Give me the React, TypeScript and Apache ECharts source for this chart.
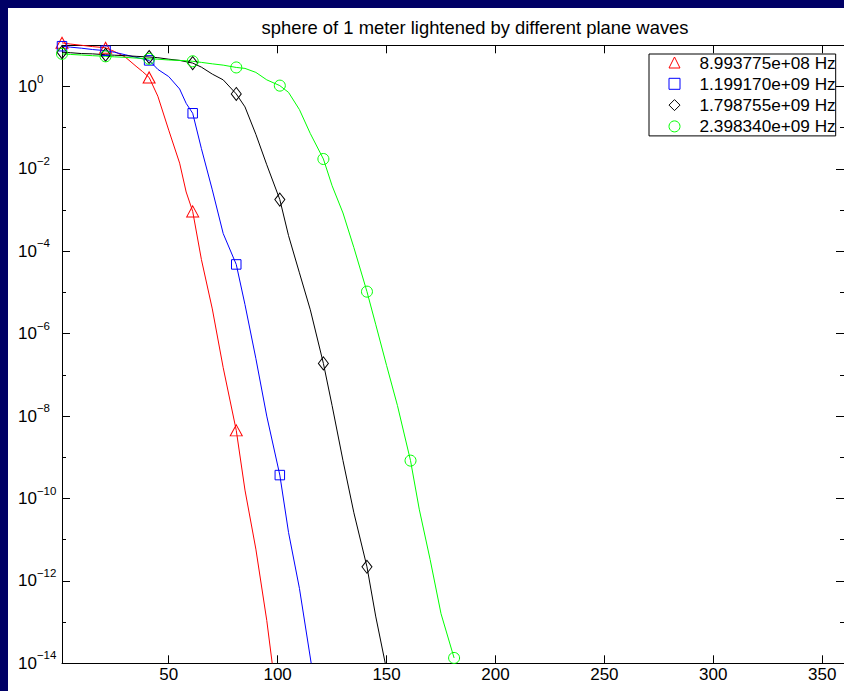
import React, { useEffect, useRef } from "react";
import * as echarts from "echarts";

const titleText = "sphere of 1 meter lightened by different plane waves";
const seriesNames = ["8.993775e+08 Hz", "1.199170e+09 Hz", "1.798755e+09 Hz", "2.398340e+09 Hz"];
const seriesColors = ["#ff0000", "#0000ff", "#000000", "#00ff00"];
const seriesSymbols = ["triangle", "rect", "diamond", "circle"];

const markerX = [1, 21, 41, 61, 81, 101, 121, 141, 161, 181];
const xTicks = [50, 100, 150, 200, 250, 300, 350];
const yMajorExp = [-14, -12, -10, -8, -6, -4, -2, 0];
const yAllExp = [-14, -13, -12, -11, -10, -9, -8, -7, -6, -5, -4, -3, -2, -1, 0, 1];

const xRed = [1, 5, 10, 15, 21, 25, 30, 35, 38, 41, 45, 50, 55, 58, 61, 65, 70, 75, 81, 85, 90, 95, 97.5];
const yRed = [11.5, 10.7, 10, 9.3, 8.7, 7.1, 5.2, 3.1, 2.3, 1.66, 0.58, 0.087, 0.0138, 2.75e-3, 9.3e-4, 6.3e-5, 4.0e-6, 1.5e-7, 4.5e-9, 1.6e-10, 5.9e-12, 1.1e-13, 1e-14];

const xBlue = [1, 5, 10, 15, 21, 25, 30, 35, 41, 45, 50, 55, 58, 61, 65, 70, 75, 81, 85, 90, 95, 101, 105, 110, 115.4];
const yBlue = [9.5, 9.0, 8.5, 7.9, 7.4, 6.8, 5.9, 5.1, 4.3, 2.6, 1.74, 0.87, 0.39, 0.224, 0.031, 3.1e-3, 2.7e-4, 4.8e-5, 5.1e-6, 2.5e-7, 1.0e-8, 3.7e-10, 1.5e-11, 6.6e-13, 1e-14];

const xBlack = [1, 5, 10, 15, 21, 25, 30, 35, 41, 45, 50, 55, 61, 65, 70, 75, 81, 85, 90, 95, 101, 105, 110, 115, 121, 125, 130, 135, 141, 145, 149.4];
const yBlack = [6.8, 6.6, 6.3, 6.2, 5.9, 5.75, 5.6, 5.4, 5.2, 5.0, 4.6, 4.3, 3.7, 2.95, 2.0, 1.45, 0.66, 0.32, 0.069, 0.0126, 1.8e-3, 2.4e-4, 3.0e-5, 3.8e-6, 1.9e-7, 1.8e-8, 8.3e-10, 4.5e-11, 2.2e-12, 1.4e-13, 1e-14];

const xGreen = [1, 5, 10, 15, 21, 25, 30, 35, 41, 45, 50, 55, 61, 65, 70, 75, 81, 85, 90, 95, 101, 105, 110, 115, 121, 125, 130, 135, 141, 145, 150, 155, 161, 165, 170, 175, 181];
const yGreen = [6.2, 6.0, 5.8, 5.6, 5.4, 5.25, 5.1, 4.9, 4.7, 4.6, 4.4, 4.3, 4.1, 3.85, 3.55, 3.3, 2.9, 2.75, 2.2, 1.45, 1.05, 0.72, 0.275, 0.072, 0.0174, 3.9e-3, 8.5e-4, 1.23e-4, 1.05e-5, 1.7e-6, 1.7e-7, 1.8e-8, 8.3e-10, 5.5e-11, 3.3e-12, 1.6e-13, 1.35e-14];

const allX = [xRed, xBlue, xBlack, xGreen];
const allY = [yRed, yBlue, yBlack, yGreen];
const symbolSizes: any[] = [[12, 11], 9.5, [10, 13], 11];

const FONT = '"Liberation Sans", Arial, Helvetica, sans-serif';

function yAxisDef(position: string, tickLen: number, tickVals: number[], showLabel: boolean, showLine: boolean) {
  return {
    type: "value",
    min: -14,
    max: 1,
    interval: 1,
    position,
    axisLine: { show: showLine, onZero: false, lineStyle: { color: "#000", width: 1 } },
    axisTick: { show: true, inside: true, length: tickLen, customValues: tickVals, lineStyle: { color: "#000", width: 1 } },
    axisLabel: showLabel
      ? {
          show: true,
          customValues: yMajorExp,
          align: "left",
          margin: 44,
          color: "#000",
          fontFamily: FONT,
          formatter: (v: number) => {
            const e = Math.round(v);
            const s = e < 0 ? "\u2212" + Math.abs(e) : String(e);
            return "{b|10}{s|" + s + "}";
          },
          rich: {
            b: { fontSize: 17, fontFamily: FONT, color: "#000" },
            s: { fontSize: 11.5, fontFamily: FONT, color: "#000", lineHeight: 12, padding: [0, 0, 16, 0] },
          },
        }
      : { show: false },
    splitLine: { show: false },
  };
}

function xAxisDef(position: string, showLabel: boolean) {
  return {
    type: "value",
    min: 1,
    max: 360,
    position,
    axisLine: { show: true, onZero: false, lineStyle: { color: "#000", width: 1 } },
    axisTick: { show: true, inside: true, length: 8, customValues: xTicks, lineStyle: { color: "#000", width: 1 } },
    axisLabel: showLabel
      ? { show: true, customValues: xTicks, margin: 3, color: "#000", fontSize: 17, fontFamily: FONT }
      : { show: false },
    splitLine: { show: false },
  };
}

export default function App() {
  const ref = useRef<HTMLDivElement>(null);
  useEffect(() => {
    document.body.style.background = "#000066";
    document.body.style.margin = "8px 0 0 8px";
    document.body.style.overflow = "hidden";
    document.documentElement.style.overflow = "hidden";
    if (!ref.current) return;
    const chart = echarts.init(ref.current, null, { renderer: "svg" });

    const series = seriesNames.map((name, i) => ({
      name,
      type: "line",
      xAxisIndex: 0,
      yAxisIndex: 0,
      clip: false,
      showSymbol: true,
      symbolSize: symbolSizes[i],
      color: seriesColors[i],
      lineStyle: { color: seriesColors[i], width: 1 },
      itemStyle: { color: "rgba(0,0,0,0)", borderColor: seriesColors[i], borderWidth: 1 },
      emphasis: { disabled: true },
      data: allX[i].map((x, j) => ({
        value: [x, Math.log10(allY[i][j])],
        symbol: markerX.indexOf(x) >= 0 ? seriesSymbols[i] : "none",
      })),
    }));

    chart.setOption({
      animation: false,
      backgroundColor: "#ffffff",
      textStyle: { fontFamily: FONT },
      grid: { left: 54, right: -2, top: 37.3, bottom: 27.7, containLabel: false },
      xAxis: [xAxisDef("bottom", true), xAxisDef("top", false)],
      yAxis: [
        yAxisDef("left", 8, yMajorExp, true, true),
        yAxisDef("left", 4, yAllExp, false, false),
        yAxisDef("right", 8, yMajorExp, false, true),
        yAxisDef("right", 4, yAllExp, false, false),
      ],
      legend: {
        show: true,
        orient: "vertical",
        left: 641,
        top: 46,
        padding: [0, 0, 1, 19.5],
        itemGap: 4.3,
        itemWidth: 11,
        itemHeight: 11,
        backgroundColor: "#ffffff",
        borderColor: "#000000",
        borderWidth: 1,
        selectedMode: false,
        textStyle: { color: "#000", fontSize: 17.2, fontFamily: FONT, lineHeight: 16, padding: [0, 0, 0, 14.5] },
        data: seriesNames.map((name, i) => ({
          name,
          icon: seriesSymbols[i],
          itemStyle: { color: "rgba(0,0,0,0)", borderColor: seriesColors[i], borderWidth: 1 },
        })),
      },
      graphic: [
        {
          type: "text",
          x: 467,
          y: 19,
          style: {
            text: titleText,
            fill: "#000",
            font: "18.4px " + FONT,
            textAlign: "center",
            textVerticalAlign: "middle",
          },
        },
      ],
      series,
    });
    return () => chart.dispose();
  }, []);
  return <div ref={ref} style={{ width: 836, height: 683, background: "#fff" }} />;
}
